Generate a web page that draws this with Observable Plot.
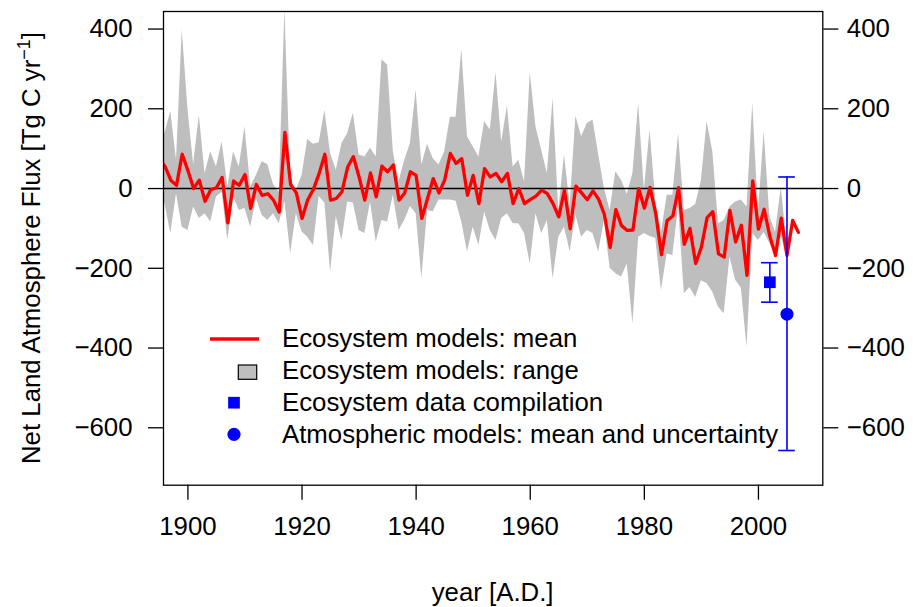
<!DOCTYPE html>
<html><head><meta charset="utf-8">
<script src="https://cdn.jsdelivr.net/npm/d3@7"></script>
<script src="https://cdn.jsdelivr.net/npm/@observablehq/plot@0.6"></script>
<style>
html,body{margin:0;padding:0;background:#fff;}
#chart svg{display:block;}
</style>
</head><body><div id="chart"></div>
<script>
// ---------- data ----------
const meanStart = 1895;
const meanFlux = [
  75, 55, 21, 8, 86,            // 1895-1899
  45, 0, 21, -32, -3, 2, 28, -86, 19, 8,        // 1900-1909
  35, -50, 10, -17, -13, -29, -59, 141, 10, -11, // 1910-1919
  -75, -28, -2, 38, 86, -29, -25, -8, 54, 80,   // 1920-1929
  29, -29, 39, -21, 56, 42, 59, -29, -11, 42,   // 1930-1939
  33, -75, -25, 25, -11, 21, 88, 63, 75, -17,   // 1940-1949
  33, -38, 50, 29, 38, 17, 38, -38, 0, -38,     // 1950-1959
  -28, -19, -4, -13, -38, -71, -4, -101, 6, -11, // 1960-1969
  -28, -6, -27, -65, -148, -53, -93, -105, -104, 0, // 1970-1979
  -49, 3, -63, -166, -80, -69, 2, -140, -100, -188, // 1980-1989
  -147, -73, -58, -164, -172, -55, -134, -92, -218, 19, // 1990-1999
  -102, -52, -120, -168, -74, -168, -80, -110   // 2000-2007
];
const rangeStart = 1895;
const rangeUpper = [
  110, 140, 193, 71, 398,
  200, 60, 184, 38, 92, 54, 117, 4, 92, 54,
  155, 4, 33, 67, 60, 10, -9, 450, 21, -5,
  33, 123, 111, 115, 196, 88, 46, 113, 138, 189,
  84, 79, 101, 79, 323, 310, 92, 17, 71, 113,
  247, 59, 111, 75, 59, 92, 179, 179, 350, 130,
  105, 79, 168, 147, 291, 117, 207, 54, 71, 17,
  291, 155, 96, 38, 226, -55, 84, -42, 182, 130,
  163, 172, 85, 0, -55, 42, 21, -15, 38, 214,
  -4, 147, -30, -110, -17, -17, 138, -55, -50, -40,
  20, 168, 92, -88, -80, -46, -34, -29, -46, 214,
  -60, 142, -70, -110, 4, -140
];
const rangeLower = [
  -10, -40, -113, -13, -97,
  -105, -46, -75, -63, -84, -21, -9, -130, -21, -55,
  -50, -97, -25, -67, -80, -63, -88, -32, -164, -63,
  -109, -122, -143, -20, -36, -210, -71, -130, -34, -36,
  -105, -113, -34, -134, -80, -84, -17, -105, -80, -45,
  -63, -226, -55, -58, -29, -29, -29, -32, -84, -159,
  -97, -143, -59, -105, -130, -75, -63, -88, -88, -113,
  -189, -63, -113, -80, -226, -122, -97, -159, -67, -122,
  -105, -113, -160, -80, -200, -214, -222, -189, -340, -122,
  -113, -120, -125, -256, -164, -168, -46, -264, -248, -273,
  -231, -239, -260, -298, -314, -172, -230, -250, -398, -113,
  -130, -110, -138, -168, -120, -175
];
const obsNames  = ["Ecosystem data compilation", "Atmospheric models: mean and uncertainty"];
const obsYear   = [2002, 2005];
const obsValue  = [-235, -315];
const obsLow    = [-285, -657];
const obsHigh   = [-186, 29];
const obsSymbol = ["square", "circle"];

const xTicks = [1900, 1920, 1940, 1960, 1980, 2000];
const yTicks = [-600, -400, -200, 0, 200, 400];
const legendLabels = ["Ecosystem models: mean", "Ecosystem models: range",
  "Ecosystem data compilation", "Atmospheric models: mean and uncertainty"];
const xTitle = "year [A.D.]";

// ---------- tables ----------
const meanData = meanFlux.map((v, i) => ({year: meanStart + i, value: v}));
const rangeData = rangeUpper.map((u, i) => ({year: rangeStart + i, upper: u, lower: rangeLower[i]}));
const obsData = obsNames.map((n, i) => ({name: n, year: obsYear[i], value: obsValue[i],
  lo: obsLow[i], hi: obsHigh[i], symbol: obsSymbol[i]}));

const FONT = "'Liberation Sans', Arial, Helvetica, sans-serif";
const FS = 25.8;
const capHalf = 1.46; // half cap width in years

const chart = Plot.plot({
  width: 914, height: 607,
  marginLeft: 163, marginRight: 91.7, marginTop: 11, marginBottom: 122.3,
  style: {fontFamily: FONT, fontSize: FS + "px", background: "white", color: "black"},
  x: {domain: [1895.72, 2011.28]},
  y: {domain: [-744, 444]},
  marks: [
    Plot.areaY(rangeData, {x: "year", y1: "lower", y2: "upper", fill: "#bebebe", clip: true}),
    Plot.ruleY([0], {stroke: "black", strokeWidth: 1.5}),
    Plot.lineY(meanData, {x: "year", y: "value", stroke: "#ff0000", strokeWidth: 3.3, strokeLinejoin: "round", clip: true}),
    Plot.ruleX(obsData, {x: "year", y1: "lo", y2: "hi", stroke: "#0000ff", strokeWidth: 1.6}),
    Plot.ruleY(obsData, {y: "lo", x1: d => d.year - capHalf, x2: d => d.year + capHalf, stroke: "#0000ff", strokeWidth: 1.6}),
    Plot.ruleY(obsData, {y: "hi", x1: d => d.year - capHalf, x2: d => d.year + capHalf, stroke: "#0000ff", strokeWidth: 1.6}),
    Plot.dot(obsData.filter(d => d.symbol === "square"), {x: "year", y: "value", symbol: "square", fill: "#0000ff", r: 6.6}),
    Plot.dot(obsData.filter(d => d.symbol === "circle"), {x: "year", y: "value", symbol: "circle", fill: "#0000ff", r: 6.5}),
    Plot.frame({stroke: "black", strokeWidth: 1.3}),
    Plot.axisY({anchor: "left", ticks: yTicks, tickSize: 15, tickPadding: 16, strokeWidth: 1.3, fontSize: FS, label: null}),
    Plot.axisY({anchor: "right", ticks: yTicks, tickSize: 15, tickPadding: 9, strokeWidth: 1.3, fontSize: FS, label: null}),
    Plot.axisX({anchor: "bottom", ticks: xTicks, tickSize: 15, tickPadding: 16, strokeWidth: 1.3, fontSize: FS, tickFormat: "d", label: null})
  ]
});
document.getElementById("chart").appendChild(chart);

// ---------- titles & legend ----------
const svg = d3.select(chart);
const ann = svg.append("g").attr("font-family", FONT).attr("font-size", FS).attr("fill", "black");

ann.append("text").attr("x", 492.6).attr("y", 601).attr("text-anchor", "middle").text(xTitle);

const yl = ann.append("text").attr("transform", "translate(39.5,248) rotate(-90)").attr("text-anchor", "middle");
yl.append("tspan").text("Net Land Atmosphere Flux [Tg C yr");
yl.append("tspan").attr("font-size", 18).attr("dy", -10).text("\u22121");
yl.append("tspan").attr("dy", 10).text("]");

const lg = svg.append("g");
lg.append("line").attr("x1", 210).attr("x2", 259).attr("y1", 339).attr("y2", 339)
  .attr("stroke", "#ff0000").attr("stroke-width", 3.3);
lg.append("rect").attr("x", 238.3).attr("y", 365).attr("width", 18.4).attr("height", 14.3)
  .attr("fill", "#bebebe").attr("stroke", "black").attr("stroke-width", 1.2);
lg.append("rect").attr("x", 234 - 5.85).attr("y", 402.7 - 5.85).attr("width", 11.7).attr("height", 11.7)
  .attr("fill", "#0000ff");
lg.append("circle").attr("cx", 234).attr("cy", 434.3).attr("r", 6.6).attr("fill", "#0000ff");
const baselines = [347, 379, 411, 443];
legendLabels.forEach((t, i) => {
  lg.append("text").attr("x", 282).attr("y", baselines[i]).attr("font-family", FONT)
    .attr("font-size", FS).attr("fill", "black").attr("text-anchor", "start").text(t);
});
</script>
</body></html>
